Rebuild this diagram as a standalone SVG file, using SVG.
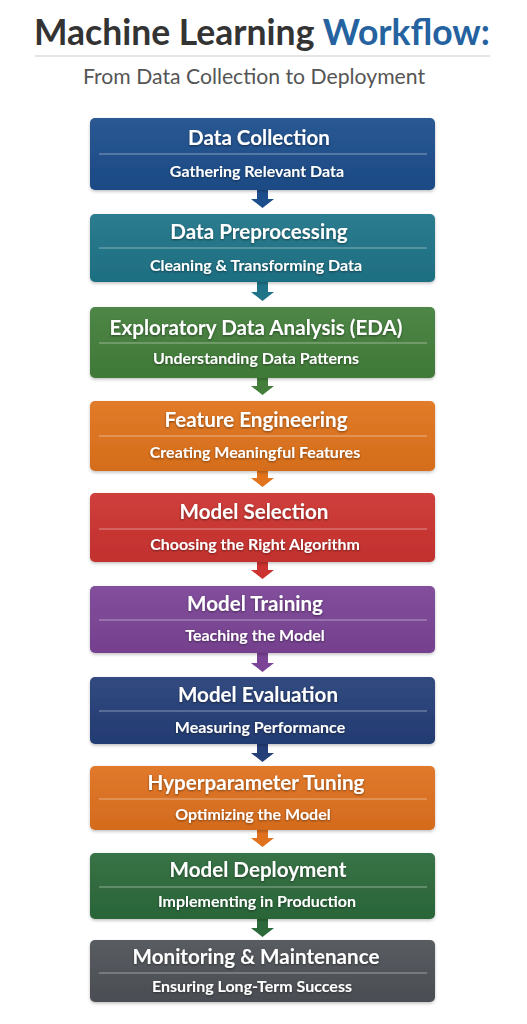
<svg xmlns="http://www.w3.org/2000/svg" width="527" height="1024" viewBox="0 0 527 1024">
<defs>
<style>
.t{font-family:Lato,"Open Sans","Liberation Sans",sans-serif;font-weight:700;font-size:20.6px;fill:#fff;text-anchor:middle}
.s{font-family:Lato,"Open Sans","Liberation Sans",sans-serif;font-weight:700;font-size:16px;fill:#fff;text-anchor:middle}
.d{stroke:#fff;stroke-opacity:0.45;stroke-width:1}
.ts{filter:url(#tsh)}
</style>
<linearGradient id="gl" x1="0" y1="0" x2="0" y2="1">
<stop offset="0" stop-color="#fff" stop-opacity="0.06"/>
<stop offset="1" stop-color="#000" stop-opacity="0.05"/>
</linearGradient>
<filter id="bsh" x="-5%" y="-10%" width="110%" height="130%">
<feDropShadow dx="0" dy="1.5" stdDeviation="1.5" flood-color="#000" flood-opacity="0.25"/>
</filter>
<filter id="tsh" x="-5%" y="-20%" width="110%" height="150%">
<feDropShadow dx="0" dy="1" stdDeviation="0.8" flood-color="#000" flood-opacity="0.45"/>
</filter>
</defs>
<rect width="527" height="1024" fill="#fff"/>
<g id="header">
<text x="262" y="45" style="font-family:Lato,'Open Sans','Liberation Sans',sans-serif;font-weight:700;font-size:35.5px;text-anchor:middle"><tspan fill="#333">Machine Learning </tspan><tspan fill="#2563a0">Workflow:</tspan></text>
<line x1="35" y1="56" x2="490" y2="56" stroke="#ddd" stroke-width="1.5"/>
<text x="254" y="84" style="font-family:Lato,'Open Sans','Liberation Sans',sans-serif;font-size:21.2px;fill:#555;text-anchor:middle">From Data Collection to Deployment</text>
</g>
<g id="connectors">
<path d="M257 190H268V199H274L262.5 208L251 199H257Z" fill="#1d4e8c"/>
<path d="M257 282H268V292H274L262.5 301L251 292H257Z" fill="#1f7488"/>
<path d="M257 378H268V386H274L262.5 395L251 386H257Z" fill="#437f3b"/>
<path d="M257 471H268V478H274L262.5 487L251 478H257Z" fill="#e0731c"/>
<path d="M257 562H268V570H274L262.5 579L251 570H257Z" fill="#cc3330"/>
<path d="M257 653H268V663H274L262.5 672L251 663H257Z" fill="#7b4496"/>
<path d="M257 744H268V753H274L262.5 762L251 753H257Z" fill="#253f78"/>
<path d="M257 830H268V838H274L262.5 847L251 838H257Z" fill="#df711f"/>
<path d="M257 919H268V928H274L262.5 937L251 928H257Z" fill="#2c6a3b"/>
</g>
<g id="n1" filter="url(#bsh)"><rect x="90" y="118" width="345" height="72" rx="5" fill="#1d4e8c"/><rect x="90" y="118" width="345" height="72" rx="5" fill="url(#gl)"/><line class="d" x1="99" y1="154" x2="427" y2="154"/><g class="ts"><text class="t" x="259" y="145">Data Collection</text><text class="s" x="257" y="177">Gathering Relevant Data</text></g></g>
<g id="n2" filter="url(#bsh)"><rect x="90" y="214" width="345" height="68" rx="5" fill="#1f7488"/><rect x="90" y="214" width="345" height="68" rx="5" fill="url(#gl)"/><line class="d" x1="99" y1="248" x2="427" y2="248"/><g class="ts"><text class="t" x="259" y="239">Data Preprocessing</text><text class="s" x="256" y="271">Cleaning &amp; Transforming Data</text></g></g>
<g id="n3" filter="url(#bsh)"><rect x="90" y="307" width="345" height="71" rx="5" fill="#437f3b"/><rect x="90" y="307" width="345" height="71" rx="5" fill="url(#gl)"/><line class="d" x1="99" y1="343" x2="427" y2="343"/><g class="ts"><text class="t" x="256" y="335">Exploratory Data Analysis (EDA)</text><text class="s" x="256" y="364">Understanding Data Patterns</text></g></g>
<g id="n4" filter="url(#bsh)"><rect x="90" y="401" width="345" height="70" rx="5" fill="#e0731c"/><rect x="90" y="401" width="345" height="70" rx="5" fill="url(#gl)"/><line class="d" x1="99" y1="436" x2="427" y2="436"/><g class="ts"><text class="t" x="256" y="427">Feature Engineering</text><text class="s" x="255" y="458">Creating Meaningful Features</text></g></g>
<g id="n5" filter="url(#bsh)"><rect x="90" y="493" width="345" height="69" rx="5" fill="#cc3330"/><rect x="90" y="493" width="345" height="69" rx="5" fill="url(#gl)"/><line class="d" x1="99" y1="529" x2="427" y2="529"/><g class="ts"><text class="t" x="254" y="519">Model Selection</text><text class="s" x="255" y="550">Choosing the Right Algorithm</text></g></g>
<g id="n6" filter="url(#bsh)"><rect x="90" y="586" width="345" height="67" rx="5" fill="#7b4496"/><rect x="90" y="586" width="345" height="67" rx="5" fill="url(#gl)"/><line class="d" x1="99" y1="620" x2="427" y2="620"/><g class="ts"><text class="t" x="255" y="611">Model Training</text><text class="s" x="255" y="641">Teaching the Model</text></g></g>
<g id="n7" filter="url(#bsh)"><rect x="90" y="677" width="345" height="67" rx="5" fill="#253f78"/><rect x="90" y="677" width="345" height="67" rx="5" fill="url(#gl)"/><line class="d" x1="99" y1="711" x2="427" y2="711"/><g class="ts"><text class="t" x="258" y="702">Model Evaluation</text><text class="s" x="260" y="733">Measuring Performance</text></g></g>
<g id="n8" filter="url(#bsh)"><rect x="90" y="766" width="345" height="64" rx="5" fill="#df711f"/><rect x="90" y="766" width="345" height="64" rx="5" fill="url(#gl)"/><line class="d" x1="99" y1="799" x2="427" y2="799"/><g class="ts"><text class="t" x="256" y="790">Hyperparameter Tuning</text><text class="s" x="253" y="820">Optimizing the Model</text></g></g>
<g id="n9" filter="url(#bsh)"><rect x="90" y="853" width="345" height="66" rx="5" fill="#2c6a3b"/><rect x="90" y="853" width="345" height="66" rx="5" fill="url(#gl)"/><line class="d" x1="99" y1="887" x2="427" y2="887"/><g class="ts"><text class="t" x="258" y="877">Model Deployment</text><text class="s" x="257" y="907">Implementing in Production</text></g></g>
<g id="n10" filter="url(#bsh)"><rect x="90" y="940" width="345" height="62" rx="5" fill="#4e5257"/><rect x="90" y="940" width="345" height="62" rx="5" fill="url(#gl)"/><line class="d" x1="99" y1="973" x2="427" y2="973"/><g class="ts"><text class="t" x="256" y="964">Monitoring &amp; Maintenance</text><text class="s" x="252" y="992">Ensuring Long-Term Success</text></g></g>
</svg>
